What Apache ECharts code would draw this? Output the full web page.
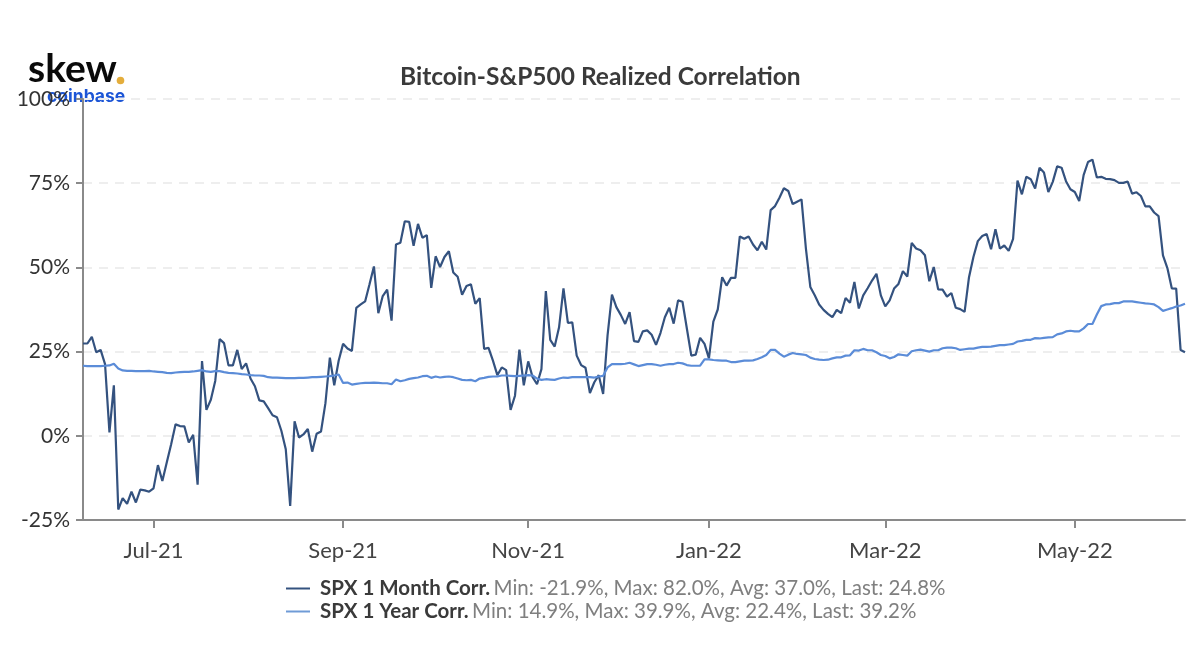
<!DOCTYPE html>
<html>
<head>
<meta charset="utf-8">
<title>Bitcoin-S&P500 Realized Correlation</title>
<script src="https://cdn.jsdelivr.net/npm/echarts@6/dist/echarts.min.js"></script>
<style>
  html, body { margin: 0; padding: 0; background: #fff; }
  #main { width: 1200px; height: 670px; }
</style>
</head>
<body>
<div id="main"></div>
<script>
// trading days
const corr1m = [
  27.4, 27.4, 29.4, 24.8, 25.5, 21.3, 1.0, 15.0, -21.9, -18.5,
  -20.2, -16.6, -19.8, -16.0, -16.2, -16.6, -15.6, -8.7, -13.4, -7.9,
  -2.5, 3.4, 2.9, 2.8, -2.0, 0.3, -14.5, 22.2, 7.7, 10.7,
  16.3, 28.7, 27.5, 20.9, 20.9, 25.5, 19.8, 21.5, 17.0, 14.7,
  10.5, 10.2, 8.2, 6.1, 5.5, 1.5, -4.0, -20.8, 4.3, -0.5,
  0.4, 2.0, -4.7, 0.6, 1.3, 9.7, 23.2, 15.0, 22.3, 27.3,
  25.9, 25.2, 38.0, 39.0, 39.9, 45.0, 50.3, 36.4, 41.5, 43.4,
  34.2, 56.8, 57.3, 63.7, 63.5, 56.4, 62.9, 58.8, 59.6, 43.9,
  53.3, 50.1, 53.1, 54.8, 48.5, 47.2, 41.9, 44.5, 45.0, 39.2,
  40.9, 25.8, 26.1, 22.3, 18.0, 20.3, 19.5, 7.7, 11.9, 25.6,
  15.0, 22.1, 17.4, 15.3, 19.8, 43.0, 28.5, 26.5, 32.2, 43.8,
  33.5, 33.7, 23.8, 21.0, 20.2, 12.7, 15.9, 18.0, 12.4, 29.8,
  41.9, 38.2, 35.9, 33.2, 36.7, 28.1, 27.9, 31.0, 31.3, 30.0,
  27.0, 30.5, 35.2, 38.0, 33.3, 40.2, 39.8, 31.8, 23.8, 24.1,
  29.1, 27.3, 23.0, 33.9, 37.5, 47.1, 44.6, 46.9, 46.9, 59.2,
  58.5, 59.2, 56.8, 55.1, 57.6, 55.3, 67.0, 68.2, 70.7, 73.5,
  72.7, 68.8, 69.5, 70.2, 55.6, 44.2, 41.7, 39.0, 37.4, 36.2,
  35.2, 37.4, 36.4, 40.9, 39.5, 45.7, 37.8, 41.7, 43.8, 46.1,
  48.1, 41.7, 38.4, 40.2, 43.7, 45.1, 48.9, 47.3, 57.3, 55.6,
  55.1, 53.6, 45.9, 50.1, 43.5, 43.4, 41.3, 42.4, 38.0, 37.6,
  36.8, 47.1, 53.1, 57.8, 59.3, 59.9, 55.4, 61.3, 55.6, 56.5,
  54.9, 58.5, 75.8, 71.7, 76.9, 76.2, 73.4, 79.6, 78.2, 72.4,
  75.4, 80.0, 79.6, 75.6, 73.2, 72.4, 69.7, 77.4, 81.3, 82.0,
  76.7, 76.9, 76.3, 76.2, 75.9, 75.1, 75.1, 75.5, 71.9, 72.3,
  71.2, 68.1, 68.1, 66.3, 65.2, 53.6, 49.8, 43.8, 43.7, 25.5,
  24.8
]
const corr1y = [
  20.8, 20.7, 20.7, 20.7, 20.7, 20.8, 20.9, 21.4, 20.0, 19.4,
  19.3, 19.3, 19.2, 19.2, 19.2, 19.3, 19.1, 19.0, 18.9, 18.7,
  18.6, 18.8, 18.9, 19.0, 19.0, 19.1, 19.3, 19.5, 19.1, 19.0,
  19.2, 19.2, 18.9, 18.7, 18.6, 18.5, 18.3, 18.2, 18.0, 17.9,
  17.9, 17.8, 17.4, 17.3, 17.3, 17.2, 17.1, 17.1, 17.1, 17.2,
  17.2, 17.3, 17.4, 17.4, 17.5, 17.6, 17.7, 17.9, 18.2, 15.7,
  15.8, 15.2, 15.4, 15.6, 15.7, 15.7, 15.8, 15.7, 15.6, 15.6,
  15.3, 16.7, 16.2, 16.5, 16.9, 17.1, 17.3, 17.7, 17.8, 17.2,
  17.6, 17.3, 17.5, 17.6, 17.4, 17.0, 16.6, 16.5, 16.6, 16.2,
  17.0, 17.2, 17.5, 17.6, 17.6, 17.9, 17.9, 17.8, 17.7, 17.8,
  17.9, 18.0, 17.9, 17.0, 16.6, 16.8, 16.7, 16.6, 17.0, 17.3,
  17.2, 17.4, 17.4, 17.4, 17.4, 17.4, 17.3, 17.6, 17.8, 20.3,
  21.3, 21.3, 21.3, 21.4, 21.7, 21.2, 20.7, 21.0, 21.3, 21.3,
  21.1, 20.8, 21.1, 21.3, 21.3, 21.7, 21.5, 21.0, 20.8, 20.8,
  20.8, 22.7, 22.7, 22.5, 22.4, 22.3, 22.3, 21.9, 21.9, 22.1,
  22.3, 22.3, 22.4, 22.8, 23.3, 24.0, 25.5, 25.5, 24.4, 23.5,
  24.1, 24.6, 24.3, 24.2, 24.0, 23.2, 22.8, 22.6, 22.5, 22.6,
  23.0, 23.3, 23.3, 23.8, 23.9, 25.4, 25.3, 25.8, 25.4, 25.4,
  24.8, 24.0, 23.7, 23.0, 23.4, 24.2, 24.0, 23.8, 25.1, 25.4,
  25.6, 25.3, 25.0, 25.4, 25.4, 26.0, 26.2, 26.2, 26.0, 25.5,
  25.7, 25.9, 25.9, 26.2, 26.4, 26.4, 26.5, 26.7, 26.9, 26.9,
  27.1, 27.3, 28.0, 28.2, 28.5, 28.5, 29.0, 28.9, 29.1, 29.2,
  29.3, 30.1, 30.4, 31.0, 31.2, 31.0, 31.0, 31.9, 33.2, 33.2,
  36.0, 38.5, 39.0, 39.1, 39.4, 39.4, 39.9, 39.9, 39.9, 39.7,
  39.5, 39.3, 39.2, 39.0, 38.2, 37.1, 37.5, 37.9, 38.4, 38.7,
  39.2
]
const yTicks = { min: -25, max: 100, interval: 25 }
const tickLabels = ['Jul-21', 'Sep-21', 'Nov-21', 'Jan-22', 'Mar-22', 'May-22']
const tickIndex = [16, 59, 101, 142, 182, 225]
const seriesNames = ['SPX 1 Month Corr.', 'SPX 1 Year Corr.']
const seriesStats = [
  'Min: -21.9%, Max: 82.0%, Avg: 37.0%, Last: 24.8%',
  'Min: 14.9%, Max: 39.9%, Avg: 22.4%, Last: 39.2%'
]

const days = corr1m.map(function (v, i) {
  const t = tickIndex.indexOf(i)
  return t >= 0 ? tickLabels[t] : String(i)
})
const onTick = function (i) { return tickIndex.indexOf(i) >= 0 }
const font = 'Lato'

const chart = echarts.init(document.getElementById('main'))
chart.setOption({
  animation: false,
  backgroundColor: '#ffffff',
  title: {
    text: 'Bitcoin-S&P500 Realized Correlation',
    left: 395,
    top: 60,
    textStyle: { fontFamily: font, fontSize: 24.5, fontWeight: 'bold', color: '#3a3a3a' }
  },
  grid: { left: 83, right: 15, top: 99, bottom: 150 },
  xAxis: {
    type: 'category',
    data: days,
    boundaryGap: false,
    axisLine: { onZero: false, lineStyle: { color: '#8a8a8a', width: 2 } },
    axisTick: { interval: onTick, length: 8, lineStyle: { color: '#8a8a8a', width: 2 } },
    axisLabel: { interval: onTick, margin: 20, fontFamily: font, fontSize: 22, color: '#444444' },
    splitLine: { show: false }
  },
  yAxis: {
    type: 'value',
    min: yTicks.min,
    max: yTicks.max,
    interval: yTicks.interval,
    axisLine: { show: true, lineStyle: { color: '#8a8a8a', width: 2 } },
    axisTick: { show: true, length: 7, lineStyle: { color: '#8a8a8a', width: 2 } },
    axisLabel: { formatter: '{value}%', margin: 13, fontFamily: font, fontSize: 21, color: '#333333' },
    splitLine: { lineStyle: { color: '#eeeeee', width: 2, type: [9, 7] } }
  },
  legend: {
    orient: 'vertical',
    left: 281,
    top: 573,
    itemWidth: 24,
    itemHeight: 2,
    itemGap: 2,
    icon: 'rect',
    selectedMode: false,
    data: seriesNames,
    formatter: function (name) {
      return '{n|' + name + '} {s|' + seriesStats[seriesNames.indexOf(name)] + '}'
    },
    textStyle: {
      rich: {
        n: { fontFamily: font, fontSize: 20.5, fontWeight: 'bold', color: '#3a3a3a', padding: [0, 0, 0, 5] },
        s: { fontFamily: font, fontSize: 20.5, color: '#7f7f7f' }
      }
    }
  },
  series: [
    {
      name: seriesNames[0],
      type: 'line',
      data: corr1m,
      showSymbol: false,
      lineStyle: { color: '#34527f', width: 2.2 },
      itemStyle: { color: '#34527f' }
    },
    {
      name: seriesNames[1],
      type: 'line',
      data: corr1y,
      showSymbol: false,
      lineStyle: { color: '#5b8cd8', width: 2.2 },
      itemStyle: { color: '#6f9bd6' }
    }
  ],
  graphic: [
    { type: 'text', left: 28, top: 50, style: { text: 'skew', fontFamily: font, fontSize: 39, fontWeight: 'bold', fill: '#0a0a0a' } },
    { type: 'circle', shape: { cx: 120.5, cy: 80.5, r: 3.8 }, style: { fill: '#e4ad3b' } },
    { type: 'text', left: 47, top: 88, style: { text: 'coinbase', fontFamily: 'Inter', fontSize: 17.5, fontWeight: 'bold', fill: '#1c55d6' } }
  ]
})
</script>
</body>
</html>
